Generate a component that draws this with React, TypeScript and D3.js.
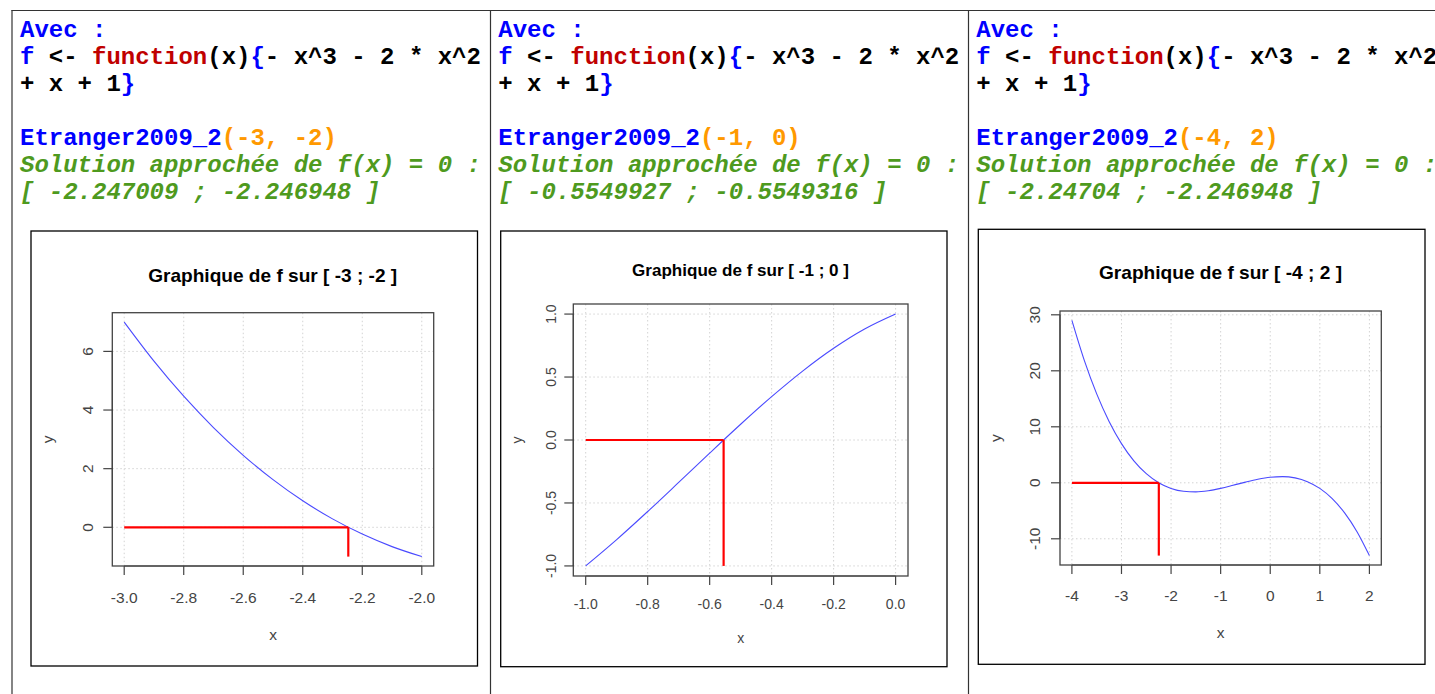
import React from "react";
import * as d3 from "d3";

// ---------- data ----------
const xs1 = [-3, -2.9, -2.8, -2.7, -2.6, -2.5, -2.4, -2.3, -2.2, -2.1, -2];
const ys1 = [7, 5.669, 4.472, 3.403, 2.456, 1.625, 0.904, 0.287, -0.232, -0.659, -1];

const xs2 = [-1, -0.9, -0.8, -0.7, -0.6, -0.5, -0.4, -0.3, -0.2, -0.1, 0];
const ys2 = [-1, -0.791, -0.568, -0.337, -0.104, 0.125, 0.344, 0.547, 0.728, 0.881, 1];

const xs3 = [-4, -3.75, -3.5, -3.25, -3, -2.75, -2.5, -2.25, -2, -1.75, -1.5, -1.25, -1, -0.75, -0.5, -0.25, 0, 0.25, 0.5, 0.75, 1, 1.25, 1.5, 1.75, 2];
const ys3 = [29, 21.859, 15.875, 10.953, 7, 3.922, 1.625, 0.016, -1, -1.516, -1.625, -1.422, -1, -0.453, 0.125, 0.641, 1, 1.109, 0.875, 0.203, -1, -2.828, -5.375, -8.734, -13];

const roots = [-2.246979, -0.554962, -2.246994];

const xTicks1 = [-3, -2.8, -2.6, -2.4, -2.2, -2];
const xTickLabels1 = ["-3.0", "-2.8", "-2.6", "-2.4", "-2.2", "-2.0"];
const yTicks1 = [0, 2, 4, 6];
const yTickLabels1 = ["0", "2", "4", "6"];

const xTicks2 = [-1, -0.8, -0.6, -0.4, -0.2, 0];
const xTickLabels2 = ["-1.0", "-0.8", "-0.6", "-0.4", "-0.2", "0.0"];
const yTicks2 = [-1, -0.5, 0, 0.5, 1];
const yTickLabels2 = ["-1.0", "-0.5", "0.0", "0.5", "1.0"];

const xTicks3 = [-4, -3, -2, -1, 0, 1, 2];
const xTickLabels3 = ["-4", "-3", "-2", "-1", "0", "1", "2"];
const yTicks3 = [-10, 0, 10, 20, 30];
const yTickLabels3 = ["-10", "0", "10", "20", "30"];

const titles = ["Graphique de f sur [ -3 ; -2 ]", "Graphique de f sur [ -1 ; 0 ]", "Graphique de f sur [ -4 ; 2 ]"];
const calls = [["Etranger2009_2", "(-3, -2)"], ["Etranger2009_2", "(-1, 0)"], ["Etranger2009_2", "(-4, 2)"]];
const solutions = ["[ -2.247009 ; -2.246948 ]", "[ -0.5549927 ; -0.5549316 ]", "[ -2.24704 ; -2.246948 ]"];

// ---------- layout ----------
const BLUE = "#0000ff";
const RED_TXT = "#c00000";
const ORANGE = "#ff9900";
const GREEN = "#4e9a1e";
const MONO = "'Liberation Mono', 'Courier New', monospace";
const SANS = "'Liberation Sans', Arial, Helvetica, sans-serif";

const panels = [
  {
    xs: xs1, ys: ys1, root: roots[0], xTicks: xTicks1, xTickLabels: xTickLabels1, yTicks: yTicks1, yTickLabels: yTickLabels1,
    title: titles[0], call: calls[0], sol: solutions[0], textX: 20,
    frame: { x: 31, y: 231, w: 446.5, h: 435 },
    plot: { l: 112.3, t: 312.7, r: 433.7, b: 566 },
    tt: { x: 272.7, y: 281.7, size: 19, len: 249 },
    tick: 15.5, xTickBase: 602.7, yTickBase: 92.7, yLabX: 53.3, xLabY: 640, labSize: 15.5,
  },
  {
    xs: xs2, ys: ys2, root: roots[1], xTicks: xTicks2, xTickLabels: xTickLabels2, yTicks: yTicks2, yTickLabels: yTickLabels2,
    title: titles[1], call: calls[1], sol: solutions[1], textX: 498.3,
    frame: { x: 500.7, y: 231, w: 446.3, h: 435.7 },
    plot: { l: 573.3, t: 304, r: 908, b: 576 },
    tt: { x: 740.5, y: 275.7, size: 17, len: 217 },
    tick: 14, xTickBase: 609, yTickBase: 555.7, yLabX: 521.7, xLabY: 642.7, labSize: 14,
  },
  {
    xs: xs3, ys: ys3, root: roots[2], xTicks: xTicks3, xTickLabels: xTickLabels3, yTicks: yTicks3, yTickLabels: yTickLabels3,
    title: titles[2], call: calls[2], sol: solutions[2], textX: 976.3,
    frame: { x: 978.3, y: 229.3, w: 446.7, h: 435 },
    plot: { l: 1060, t: 311, r: 1381.3, b: 565 },
    tt: { x: 1220.5, y: 279.3, size: 19, len: 243 },
    tick: 15.5, xTickBase: 600.7, yTickBase: 1039.7, yLabX: 1001.3, xLabY: 638.3, labSize: 15.5,
  },
];

function CodeBlock({ x, call, sol }: { x: number; call: string[]; sol: string }) {
  const base = 37;
  const lh = 27;
  return (
    <g fontFamily={MONO} fontWeight="bold" fontSize={24} style={{ whiteSpace: "pre" }}>
      <text x={x} y={base} fill={BLUE} xmlSpace="preserve">Avec :</text>
      <text x={x} y={base + lh} xmlSpace="preserve">
        <tspan fill={BLUE}>f</tspan>
        <tspan fill="#000">{" <- "}</tspan>
        <tspan fill={RED_TXT}>function</tspan>
        <tspan fill="#000">(x)</tspan>
        <tspan fill={BLUE}>{"{"}</tspan>
        <tspan fill="#000">{"- x^3 - 2 * x^2"}</tspan>
      </text>
      <text x={x} y={base + 2 * lh} xmlSpace="preserve">
        <tspan fill="#000">{"+ x + 1"}</tspan>
        <tspan fill={BLUE}>{"}"}</tspan>
      </text>
      <text x={x} y={base + 4 * lh} xmlSpace="preserve">
        <tspan fill={BLUE}>{call[0]}</tspan>
        <tspan fill={ORANGE}>{call[1]}</tspan>
      </text>
      <text x={x} y={base + 5 * lh} fill={GREEN} fontStyle="italic" xmlSpace="preserve">{"Solution approchée de f(x) = 0 :"}</text>
      <text x={x} y={base + 6 * lh} fill={GREEN} fontStyle="italic" xmlSpace="preserve">{sol}</text>
    </g>
  );
}

function Plot({ p }: { p: (typeof panels)[number] }) {
  const [x0, x1] = d3.extent(p.xs) as [number, number];
  const [y0, y1] = d3.extent(p.ys) as [number, number];
  const dx = (x1 - x0) * 0.04;
  const dy = (y1 - y0) * 0.04;
  const x = d3.scaleLinear().domain([x0 - dx, x1 + dx]).range([p.plot.l, p.plot.r]);
  const y = d3.scaleLinear().domain([y0 - dy, y1 + dy]).range([p.plot.b, p.plot.t]);
  const pts = p.xs.map((v, i) => [v, p.ys[i]] as [number, number]);
  const line = d3.line<[number, number]>().x((d) => x(d[0])).y((d) => y(d[1])).curve(d3.curveMonotoneX);
  const tickLen = 9;
  const axisCol = "#444";
  return (
    <g>
      <rect x={p.frame.x} y={p.frame.y} width={p.frame.w} height={p.frame.h} fill="#fff" stroke="#000" strokeWidth={1.3} />
      <text x={p.tt.x} y={p.tt.y} textAnchor="middle" fontFamily={SANS} fontWeight="bold" fontSize={p.tt.size}
        textLength={p.tt.len} lengthAdjust="spacingAndGlyphs" fill="#000">{p.title}</text>
      {/* grid */}
      <g stroke="#d3d3d3" strokeWidth={1} strokeDasharray="1.5,2.5">
        {p.xTicks.map((t) => (
          <line key={"gx" + t} x1={x(t)} x2={x(t)} y1={p.plot.t} y2={p.plot.b} />
        ))}
        {p.yTicks.map((t) => (
          <line key={"gy" + t} x1={p.plot.l} x2={p.plot.r} y1={y(t)} y2={y(t)} />
        ))}
      </g>
      {/* curve */}
      <path d={line(pts) || ""} fill="none" stroke="#4a4aff" strokeWidth={1.1} />
      {/* red segments */}
      <line x1={x(x0)} x2={x(p.root)} y1={y(0)} y2={y(0)} stroke="#ff0000" strokeWidth={2.2} />
      <line x1={x(p.root)} x2={x(p.root)} y1={y(0)} y2={y(y0)} stroke="#ff0000" strokeWidth={2.2} />
      {/* box */}
      <rect x={p.plot.l} y={p.plot.t} width={p.plot.r - p.plot.l} height={p.plot.b - p.plot.t} fill="none" stroke={axisCol} strokeWidth={1.3} />
      {/* x axis */}
      <g stroke={axisCol} strokeWidth={1.2}>
        <line x1={x(p.xTicks[0])} x2={x(p.xTicks[p.xTicks.length - 1])} y1={p.plot.b} y2={p.plot.b} />
        {p.xTicks.map((t) => (
          <line key={"tx" + t} x1={x(t)} x2={x(t)} y1={p.plot.b} y2={p.plot.b + tickLen} />
        ))}
        <line x1={p.plot.l} x2={p.plot.l} y1={y(p.yTicks[0])} y2={y(p.yTicks[p.yTicks.length - 1])} />
        {p.yTicks.map((t) => (
          <line key={"ty" + t} x1={p.plot.l - tickLen} x2={p.plot.l} y1={y(t)} y2={y(t)} />
        ))}
      </g>
      <g fontFamily={SANS} fontSize={p.tick} fill="#444">
        {p.xTicks.map((t, i) => (
          <text key={"lx" + t} x={x(t)} y={p.xTickBase} textAnchor="middle">{p.xTickLabels[i]}</text>
        ))}
        {p.yTicks.map((t, i) => (
          <text key={"ly" + t} x={p.yTickBase} y={y(t)} textAnchor="middle" transform={`rotate(-90, ${p.yTickBase}, ${y(t)})`}>{p.yTickLabels[i]}</text>
        ))}
        <text x={(p.plot.l + p.plot.r) / 2} y={p.xLabY} textAnchor="middle" fontSize={p.labSize}>x</text>
        <text x={p.yLabX} y={(p.plot.t + p.plot.b) / 2} textAnchor="middle" fontSize={p.labSize}
          transform={`rotate(-90, ${p.yLabX}, ${(p.plot.t + p.plot.b) / 2})`}>y</text>
      </g>
    </g>
  );
}

export default function App() {
  return (
    <svg width={1435} height={694} style={{ position: "absolute", left: 0, top: 0, background: "#fff" }}>
      <rect x={0} y={0} width={1435} height={694} fill="#fff" />
      {/* table borders */}
      <g stroke="#333" strokeWidth={1.2}>
        <line x1={11.5} x2={1435} y1={10.5} y2={10.5} />
        <line x1={12} x2={12} y1={10} y2={694} />
        <line x1={490.5} x2={490.5} y1={10} y2={694} />
        <line x1={968.5} x2={968.5} y1={10} y2={694} />
      </g>
      {panels.map((p, i) => (
        <g key={i}>
          <CodeBlock x={p.textX} call={p.call} sol={p.sol} />
          <Plot p={p} />
        </g>
      ))}
    </svg>
  );
}
